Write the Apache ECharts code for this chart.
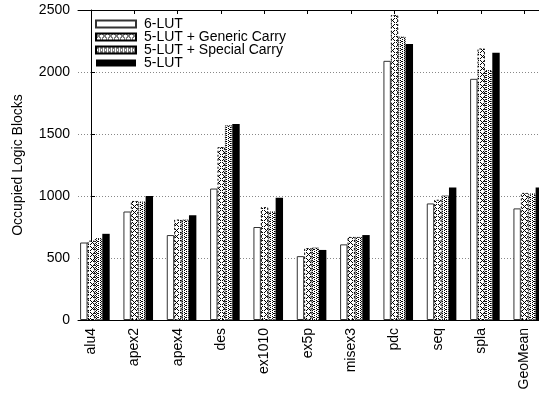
<!DOCTYPE html>
<html lang="en">
<head>
    <meta charset="UTF-8">
    <title>Occupied Logic Blocks</title>
    <script src="https://cdn.jsdelivr.net/npm/echarts@6/dist/echarts.min.js"></script>
    <style>
        *{margin:0;padding:0;box-sizing:border-box;}
        body,html{width:539px;height:393px;background:#fff;}
        #main{width:539px;height:393px;}
    </style>
</head>
<body>
<div id="main"></div>
<script>
    // benchmarks and the four flows
    var benchmarks = ['alu4','apex2','apex4','des','ex1010','ex5p','misex3','pdc','seq','spla','GeoMean']
    var lut6       = [625, 875, 685, 1060, 750, 515, 610, 2090, 940, 1945, 900]
    var generic    = [640, 960, 810, 1395, 910, 580, 670, 2460, 970, 2190, 1025]
    var special    = [660, 955, 810, 1570, 875, 585, 670, 2285, 1005, 2015, 1020]
    var lut5       = [695, 1000, 845, 1580, 985, 565, 685, 2225, 1068, 2155, 1068]
    var yTicks     = [0, 500, 1000, 1500, 2000, 2500]

    var FONT = 'Liberation Sans'
    var shift = 0.09   // gnuplot draws the cluster a bit right of the tic

    // small canvas fill patterns
    function pattern(w, h, pts){
        var c = document.createElement('canvas')
        c.width = w; c.height = h
        var g = c.getContext('2d')
        g.fillStyle = '#fff'; g.fillRect(0,0,w,h)
        g.fillStyle = '#000'
        pts.forEach(function(p){ g.fillRect(p[0], p[1], 1, 1) })
        return {image: c, repeat: 'repeat'}
    }
    // X shapes
    var crossPat = pattern(6, 6, [[0,0],[4,0],[1,1],[3,1],[2,2],[1,3],[3,3],[0,4],[4,4]])
    // dense dots
    var dotPat = pattern(4, 4, [[0,0],[2,1],[0,2],[2,3],[1,1]])

    function pts(arr){
        return arr.map(function(v, i){ return [i + shift, v] })
    }

    var myCharts = echarts.init(document.getElementById('main'))
    var BW = 7.4
    var option = {
        animation: false,
        textStyle: {fontFamily: FONT},
        grid: {left: 78, top: 10, bottom: 73, right: -7, containLabel: false, outerBoundsMode: 'none'},
        legend: {
            orient: 'vertical',
            left: 90, top: 12,
            itemWidth: 40, itemHeight: 7,
            itemGap: -1,
            icon: 'rect',
            textStyle: {fontFamily: FONT, fontSize: 14, color: '#000', padding: [0, 0, 0, 3]},
            data: ['6-LUT', '5-LUT + Generic Carry', '5-LUT + Special Carry', '5-LUT']
        },
        xAxis: [{
            type: 'value', min: -0.3, max: 10.5,
            name: 'Benchmark', nameLocation: 'middle', nameGap: 61,
            nameTextStyle: {fontFamily: FONT, fontSize: 14, color: '#000'},
            axisLine: {show: true, onZero: false, lineStyle: {color: '#000', width: 1}},
            axisTick: {show: false},
            splitLine: {show: false},
            axisLabel: {
                customValues: benchmarks.map(function(b, i){ return i }),
                formatter: function(v){ return benchmarks[Math.round(v)] },
                rotate: 90, margin: 8,
                fontFamily: FONT, fontSize: 14, color: '#000'
            }
        }, {
            type: 'value', min: -0.3, max: 10.5, position: 'top',
            axisLine: {show: true, onZero: false, lineStyle: {color: '#000', width: 1}},
            axisTick: {
                show: true, inside: true, length: 4,
                customValues: benchmarks.map(function(b, i){ return i }),
                lineStyle: {color: '#000'}
            },
            axisLabel: {show: false},
            splitLine: {show: false}
        }],
        yAxis: {
            type: 'value', min: 0, max: 2500, interval: 500,
            name: 'Occupied Logic Blocks', nameLocation: 'middle', nameGap: 53, nameRotate: 90,
            nameTextStyle: {fontFamily: FONT, fontSize: 14, color: '#000'},
            axisLine: {show: true, lineStyle: {color: '#000', width: 1}},
            axisTick: {show: true, inside: true, length: 4, lineStyle: {color: '#000'}},
            axisLabel: {
                margin: 8, fontFamily: FONT, fontSize: 14, color: '#000',
                formatter: function(v){ return yTicks.indexOf(v) >= 0 ? String(v) : '' }
            },
            splitLine: {show: true, lineStyle: {color: '#888', type: [1, 2], width: 1}}
        },
        series: [
            {
                name: '6-LUT', type: 'bar', data: pts(lut6),
                barWidth: BW, barGap: '0%',
                itemStyle: {color: '#fff', borderColor: '#333', borderWidth: 1}
            },
            {
                name: '5-LUT + Generic Carry', type: 'bar', data: pts(generic),
                barWidth: BW, barGap: '0%',
                itemStyle: {color: crossPat, borderColor: '#000', borderWidth: 1, borderType: [2, 2]}
            },
            {
                name: '5-LUT + Special Carry', type: 'bar', data: pts(special),
                barWidth: BW, barGap: '0%',
                itemStyle: {color: dotPat, borderColor: '#000', borderWidth: 1, borderType: [1, 1]}
            },
            {
                name: '5-LUT', type: 'bar', data: pts(lut5),
                barWidth: BW, barGap: '0%',
                itemStyle: {color: '#000', borderColor: '#000', borderWidth: 0}
            }
        ]
    }
    myCharts.setOption(option)
</script>
</body>
</html>
